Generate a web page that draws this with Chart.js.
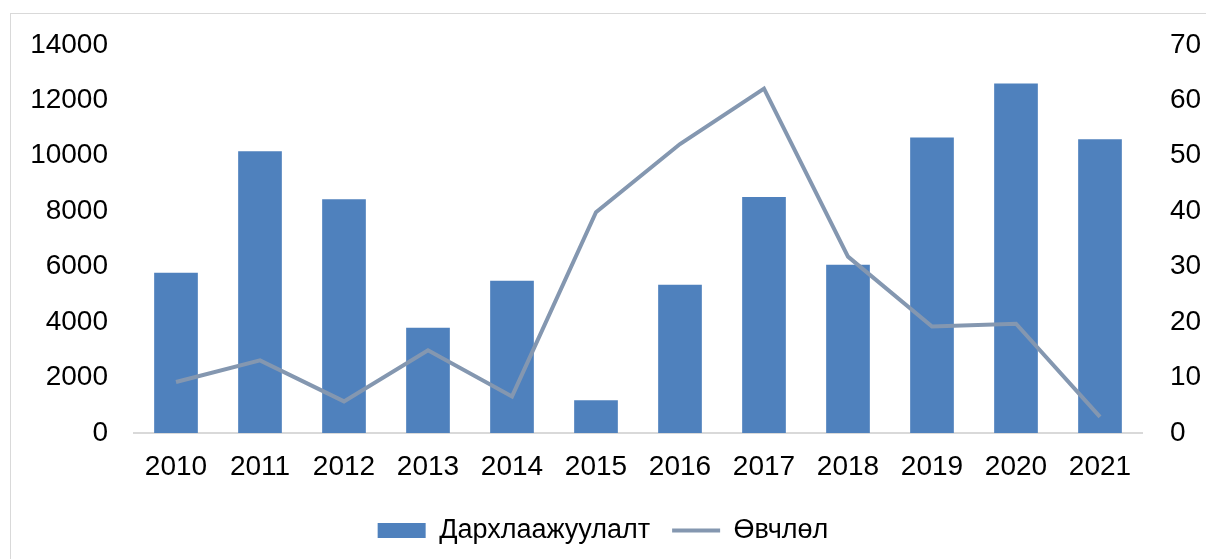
<!DOCTYPE html>
<html>
<head>
<meta charset="utf-8">
<script src="https://cdn.jsdelivr.net/npm/chart.js@4"></script>
<style>
  html, body { margin: 0; padding: 0; background: #fff; }
  #wrap { position: relative; width: 1206px; height: 559px; }
  #frame { position: absolute; left: 10px; top: 13px; width: 1210px; height: 560px; border: 1px solid #d9d9d9; box-sizing: border-box; }
  canvas { position: absolute; left: 0; top: 0; }
</style>
</head>
<body>
<div id="wrap">
  <div id="frame"></div>
  <canvas id="grafico" width="1206" height="559"></canvas>
</div>
<script>
// Дархлаажуулалт ба Өвчлөл, 2010-2021
const years = ['2010', '2011', '2012', '2013', '2014', '2015', '2016', '2017', '2018', '2019', '2020', '2021'];
const darhlaajuulalt = [5780, 10160, 8430, 3800, 5490, 1180, 5350, 8510, 6070, 10660, 12600, 10590];
const ovchlol = [9.2, 13.1, 5.7, 14.9, 6.6, 39.8, 52.1, 62.1, 31.8, 19.2, 19.7, 2.9];

const fonte = { family: '"Liberation Sans", Arial, sans-serif', size: 28 };

const ctx = document.getElementById('grafico').getContext('2d');
new Chart(ctx, {
  data: {
    labels: years,
    datasets: [
      {
        type: 'line',
        label: 'Өвчлөл',
        data: ovchlol,
        yAxisID: 'y2',
        borderColor: '#8497b0',
        backgroundColor: '#8497b0',
        borderWidth: 4,
        pointRadius: 0,
        tension: 0,
        pointStyle: 'line',
        order: 0
      },
      {
        type: 'bar',
        label: 'Дархлаажуулалт',
        data: darhlaajuulalt,
        yAxisID: 'y',
        backgroundColor: '#4f81bd',
        borderWidth: 0,
        categoryPercentage: 1,
        barPercentage: 0.52,
        pointStyle: 'rect',
        order: 1
      }
    ]
  },
  options: {
    responsive: false,
    animation: false,
    layout: { padding: { top: 41, bottom: 5, left: 0, right: 0 } },
    plugins: {
      legend: {
        position: 'bottom',
        reverse: true,
        labels: {
          font: { family: fonte.family, size: 27 },
          color: '#000',
          usePointStyle: true,
          pointStyleWidth: 48,
          boxHeight: 15,
          padding: 22
        }
      },
      tooltip: { enabled: false }
    },
    scales: {
      x: {
        grid: { display: false, drawTicks: false },
        border: { display: true, color: '#d9d9d9', width: 2 },
        ticks: { font: fonte, color: '#000', padding: 17, maxRotation: 0 },
        afterFit: (s) => { s.height = 62; }
      },
      y: {
        position: 'left',
        min: 0, max: 14000,
        grid: { display: false, drawTicks: false },
        border: { display: false },
        ticks: { font: fonte, color: '#000', stepSize: 2000, padding: 26, callback: (v) => String(v) },
        afterFit: (s) => { s.width = 134; }
      },
      y2: {
        position: 'right',
        min: 0, max: 70,
        grid: { display: false, drawTicks: false },
        border: { display: false },
        ticks: { font: fonte, color: '#000', stepSize: 10, padding: 28 },
        afterFit: (s) => { s.width = 64; }
      }
    }
  }
});
</script>
</body>
</html>
